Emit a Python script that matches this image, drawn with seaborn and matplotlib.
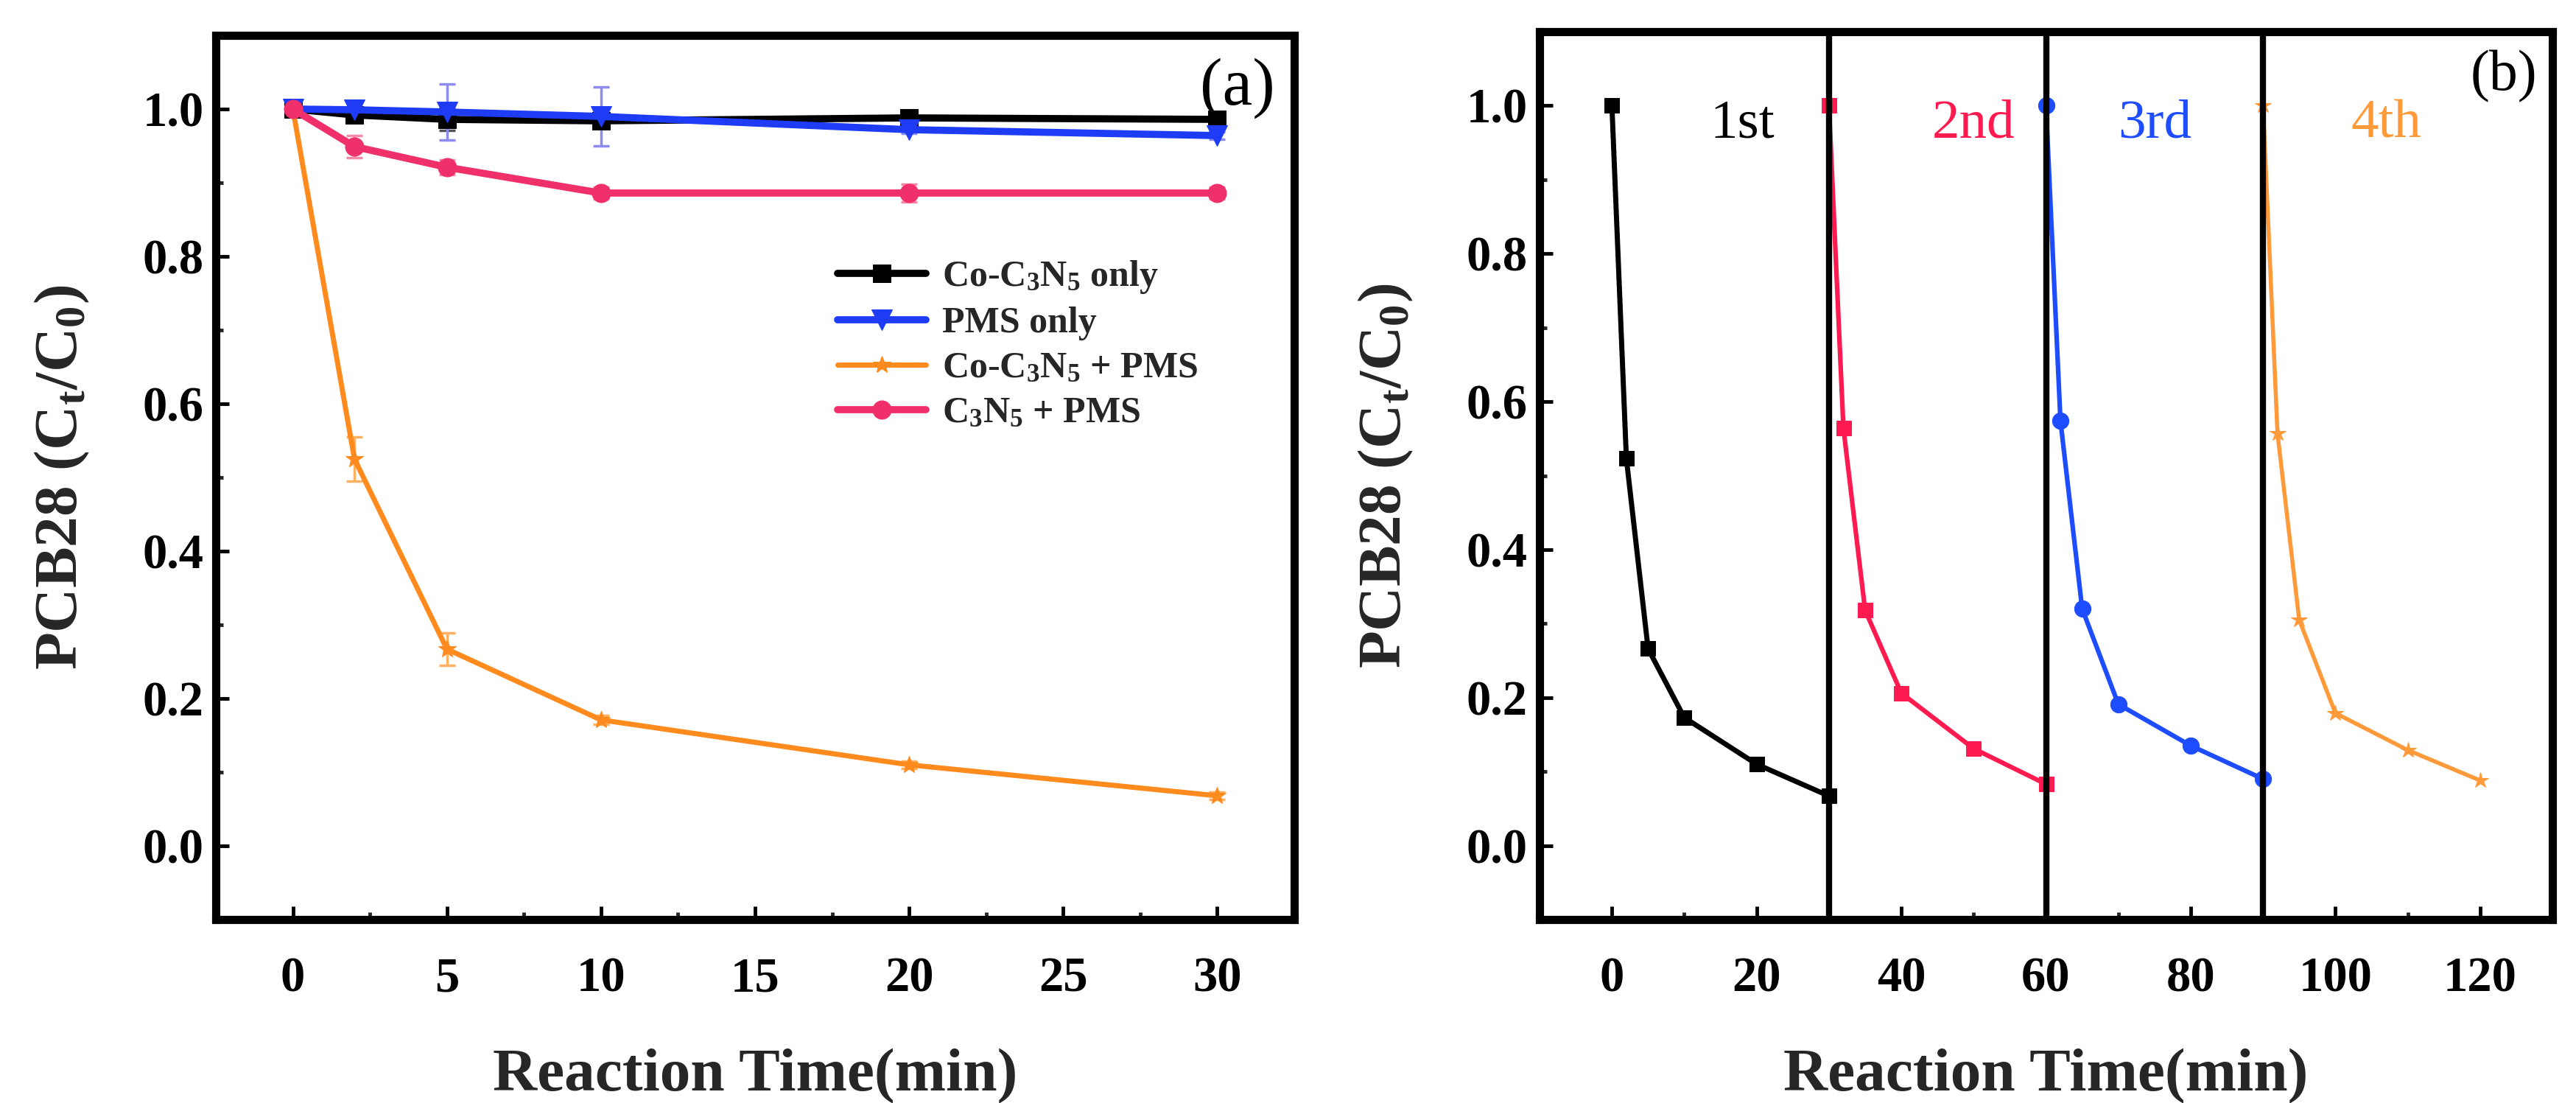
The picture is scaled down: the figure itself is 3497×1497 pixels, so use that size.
import numpy as np
import pandas as pd
import matplotlib
matplotlib.use("Agg")
import matplotlib.pyplot as plt
from matplotlib.ticker import MultipleLocator, FormatStrFormatter
import seaborn as sns

# ---------------- data ----------------
time_a = [0, 2, 5, 10, 20, 30]
co_only = [1.0, 0.992, 0.986, 0.984, 0.988, 0.986]
co_only_err = [0.0, 0.010, 0.015, 0.010, 0.005, 0.005]
pms_only = [1.0, 0.999, 0.996, 0.990, 0.972, 0.964]
pms_only_err = [0.0, 0.010, 0.038, 0.040, 0.005, 0.005]
co_pms = [1.0, 0.525, 0.267, 0.171, 0.110, 0.068]
co_pms_err = [0.0, 0.030, 0.022, 0.006, 0.005, 0.005]
c3n5_pms = [1.0, 0.949, 0.921, 0.886, 0.886, 0.886]
c3n5_pms_err = [0.0, 0.015, 0.010, 0.008, 0.012, 0.008]
labels_a = [r"Co-C$_{\mathrm{3}}$N$_{\mathrm{5}}$ only",
            "PMS only",
            r"Co-C$_{\mathrm{3}}$N$_{\mathrm{5}}$ + PMS",
            r"C$_{\mathrm{3}}$N$_{\mathrm{5}}$ + PMS"]

time_c1 = [0, 2, 5, 10, 20, 30]
time_c2 = [30, 32, 35, 40, 50, 60]
time_c3 = [60, 62, 65, 70, 80, 90]
time_c4 = [90, 92, 95, 100, 110, 120]
cycle1 = [1.0, 0.523, 0.266, 0.173, 0.110, 0.067]
cycle2 = [1.0, 0.564, 0.318, 0.206, 0.131, 0.083]
cycle3 = [1.0, 0.574, 0.320, 0.191, 0.135, 0.090]
cycle4 = [1.0, 0.557, 0.305, 0.179, 0.129, 0.088]
cycle_labels = ["1st", "2nd", "3rd", "4th"]
cycle_label_x = [18, 50, 75, 107]
cycle_bounds = [30, 60, 90]

# ---------------- style ----------------
sns.set_theme(style="ticks")
plt.rcParams["font.family"] = ["Liberation Serif", "DejaVu Serif"]
plt.rcParams["font.weight"] = "bold"
plt.rcParams["mathtext.fontset"] = "custom"
plt.rcParams["mathtext.rm"] = "Liberation Serif:bold"
plt.rcParams["mathtext.it"] = "Liberation Serif:italic:bold"
plt.rcParams["mathtext.bf"] = "Liberation Serif:bold"

W, H = 3497, 1497
fig = plt.figure(figsize=(W / 100, H / 100), dpi=100)
axa = fig.add_axes([293 / W, 1 - 1248 / H, (1757 - 293) / W, 1200 / H])
axb = fig.add_axes([2090 / W, 1 - 1248 / H, (3465 - 2090) / W, 1205 / H])

tick_fs = 48
label_fs = 60

def style_axes(ax):
    for sp in ax.spines.values():
        sp.set_linewidth(8)
        sp.set_color("black")
        sp.set_visible(True)
    ax.tick_params(which="major", direction="in", length=13, width=3.5,
                   labelsize=tick_fs, pad=12, colors="black")
    ax.tick_params(which="minor", direction="in", length=7, width=3.5)
    ax.tick_params(axis="x", which="major", pad=36)
    for lab in ax.get_xticklabels() + ax.get_yticklabels():
        lab.set_fontweight("bold")
    ax.set_xlabel("Reaction Time(min)", fontsize=label_fs, fontweight="bold", labelpad=46)
    ax.set_ylabel(r"PCB28 (C$_{\mathrm{t}}$/C$_{\mathrm{0}}$)", fontsize=label_fs,
                  fontweight="bold", labelpad=50)

# ---------------- panel (a) ----------------
series_a = [
    (co_only, co_only_err, "#000000", "#555555", "s", 17, 7),
    (pms_only, pms_only_err, "#1e3cf5", "#8c8cf0", "v", 20, 7),
    (co_pms, co_pms_err, "#ff8a1e", "#ffb060", "*", 18, 5),
    (c3n5_pms, c3n5_pms_err, "#f0306a", "#f58aa8", "o", 18, 7),
]
for (vals, errs, col, ecol, mk, ms, lw), lab in zip(series_a, labels_a):
    axa.errorbar(time_a, vals, yerr=errs, fmt="none", ecolor=ecol,
                 elinewidth=2.5, capsize=8, capthick=2.5, zorder=2)
    df = pd.DataFrame({"t": time_a, "v": vals})
    sns.lineplot(data=df, x="t", y="v", ax=axa, color=col, marker=mk,
                 markersize=ms, markeredgecolor=col, linewidth=lw,
                 label=lab, zorder=3)

axa.set_xlim(-2.5, 32.5)
axa.set_ylim(-0.1, 1.1)
axa.xaxis.set_major_locator(MultipleLocator(5))
axa.xaxis.set_minor_locator(MultipleLocator(2.5))
axa.yaxis.set_major_locator(MultipleLocator(0.2))
axa.yaxis.set_minor_locator(MultipleLocator(0.1))
axa.yaxis.set_major_formatter(FormatStrFormatter("%.1f"))
style_axes(axa)
leg = axa.legend(loc="center left", bbox_to_anchor=(0.5765, 0.65), frameon=False,
                 fontsize=36, handlelength=2.4, handletextpad=0.45,
                 labelspacing=0.3, borderpad=0, borderaxespad=0)
for t in leg.get_texts():
    t.set_fontweight("bold")
axa.text(0.947, 0.94, "(a)", transform=axa.transAxes, fontsize=66,
         fontweight="normal", ha="center", va="center", color="black")

# ---------------- panel (b) ----------------
series_b = [
    (time_c1, cycle1, "#000000", "s", 15, 5),
    (time_c2, cycle2, "#ff1a4f", "s", 15, 4.5),
    (time_c3, cycle3, "#1e4cff", "o", 16, 4.5),
    (time_c4, cycle4, "#ff9a3a", "*", 16, 4),
]
for xs, vals, col, mk, ms, lw in series_b:
    df = pd.DataFrame({"t": xs, "v": vals})
    sns.lineplot(data=df, x="t", y="v", ax=axb, color=col, marker=mk,
                 markersize=ms, markeredgecolor=col, linewidth=lw,
                 legend=False, zorder=3)
for xb in cycle_bounds:
    axb.axvline(xb, color="black", linewidth=6, zorder=5)
text_cols = ["#000000", "#ff1a4f", "#1e4cff", "#ff9a3a"]
for lab, xl, col in zip(cycle_labels, cycle_label_x, text_cols):
    axb.text(xl, 0.975, lab, fontsize=54, fontweight="normal", color=col,
             ha="center", va="center")

axb.set_xlim(-10, 130)
axb.set_ylim(-0.1, 1.1)
axb.xaxis.set_major_locator(MultipleLocator(20))
axb.xaxis.set_minor_locator(MultipleLocator(10))
axb.yaxis.set_major_locator(MultipleLocator(0.2))
axb.yaxis.set_minor_locator(MultipleLocator(0.1))
axb.yaxis.set_major_formatter(FormatStrFormatter("%.1f"))
style_axes(axb)
axb.text(0.952, 0.95, "(b)", transform=axb.transAxes, fontsize=56,
         fontweight="normal", ha="center", va="center", color="black")

fig.savefig("out.png", dpi=100, facecolor="white")
